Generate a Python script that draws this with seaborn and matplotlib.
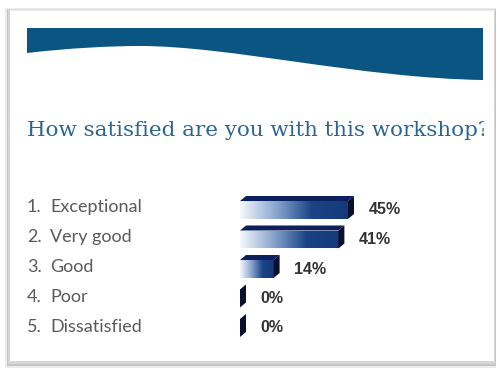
import numpy as np
import matplotlib
matplotlib.use("Agg")
import matplotlib.pyplot as plt
from matplotlib.patches import Rectangle, Polygon, PathPatch
from matplotlib.path import Path
from matplotlib.colors import LinearSegmentedColormap
from matplotlib.transforms import blended_transform_factory
import seaborn as sns

# Survey results
numbers = ["1.", "2.", "3.", "4.", "5."]
categories = ["Exceptional", "Very good", "Good", "Poor", "Dissatisfied"]
percent = [45, 41, 14, 0, 0]
title = "How satisfied are you with this workshop?"

sns.set_theme(style="white")

W, H = 497, 368
fig = plt.figure(figsize=(W / 100, H / 100), dpi=100)
fig.patch.set_facecolor("white")

# Slide background layer in pixel units
bg = fig.add_axes([0, 0, 1, 1], zorder=0)
bg.set_xlim(0, W)
bg.set_ylim(H, 0)
bg.axis("off")

# Card with soft shadow
bg.add_patch(Rectangle((5, 8), 491, 360, fc="#ececec", ec="none"))
bg.add_patch(Rectangle((7, 9), 489, 357, fc="#c4c4c4", ec="none"))
bg.add_patch(Rectangle((8, 9), 487, 355, fc="#d6d6d6", ec="none"))
bg.add_patch(Rectangle((10, 10), 484, 351, fc="white", ec="none"))
bg.plot([10, 494], [9.5, 9.5], color="#eeeeee", lw=1)

# Wavy banner
verts = [(27, 28), (483, 28), (483, 80),
         (360, 78), (230, 46), (140, 46),
         (110, 46), (70, 48), (27, 53),
         (27, 28)]
codes = [Path.MOVETO, Path.LINETO, Path.LINETO,
         Path.CURVE4, Path.CURVE4, Path.CURVE4,
         Path.CURVE4, Path.CURVE4, Path.CURVE4,
         Path.CLOSEPOLY]
bg.add_patch(PathPatch(Path(verts, codes), fc="#0b5583", ec="none"))

# Title, cut off at the right edge of the content area
t = bg.text(27, 136, title, fontsize=15.4, family="DejaVu Serif",
            color="#2a6591", ha="left", va="baseline")
t.set_clip_on(True)
t.set_clip_path(Rectangle((0, 0), 484, H, transform=bg.transData))

# Bar chart axes: 0..100 % over 240 px, five rows of 29.5 px
row = 29.5
y0 = 210 - row / 2
y1 = 210 + row * 4.5
ax = fig.add_axes([240 / W, (H - y1) / H, 240 / W, (y1 - y0) / H], zorder=1)
ax.patch.set_alpha(0)

sns.barplot(x=percent, y=categories, orient="h", ax=ax, color="white",
            width=0.61, linewidth=0, saturation=1)
ax.set_xlim(0, 100)
ax.set_ylim(4.5, -0.5)
ax.axis("off")

grad = LinearSegmentedColormap.from_list(
    "bar", ["#f5f8fc", "#8aa6cf", "#1a4486", "#143a7a"])
dx = 2.5     # depth offset, percent units
dy = 0.17    # depth offset, category units

bars = list(ax.patches)
for p in bars:
    x0, yt = p.get_x(), p.get_y()
    w, h = p.get_width(), p.get_height()
    x1, yb = x0 + w, yt + h
    if w > 0:
        im = ax.imshow(np.linspace(0, 1, 256)[None, :], cmap=grad,
                       extent=[x0, x1, yb, yt], aspect="auto",
                       interpolation="bicubic", zorder=2)
        im.set_clip_path(p)
        ax.add_patch(Polygon([(x0, yt), (x0 + dx, yt - dy),
                              (x1 + dx, yt - dy), (x1, yt)],
                             closed=True, fc="#0d1f5c", ec="none", zorder=3))
    ax.add_patch(Polygon([(x1, yt), (x1 + dx, yt - dy),
                          (x1 + dx, yb - dy), (x1, yb)],
                         closed=True, fc="#0b0f2e", ec="none", zorder=3))
    p.set_facecolor("none")

ax.set_xlim(0, 100)
ax.set_ylim(4.5, -0.5)

ax.bar_label(ax.containers[0], labels=[f"{v}%" for v in percent],
             padding=15, fontsize=11.5, fontweight="bold",
             family="Liberation Sans", color="#333333")

# Category labels at the left
tr = blended_transform_factory(fig.transFigure, ax.transData)
for i, (n, c) in enumerate(zip(numbers, categories)):
    yy = (207 + 30 * i - 210) / row
    ax.text(27 / W, yy, n, transform=tr, fontsize=13, family="Lato",
            color="#5a5a5a", ha="left", va="center")
    ax.text(50 / W, yy, c, transform=tr, fontsize=13, family="Lato",
            color="#5a5a5a", ha="left", va="center")

fig.savefig("out.png", dpi=100)
